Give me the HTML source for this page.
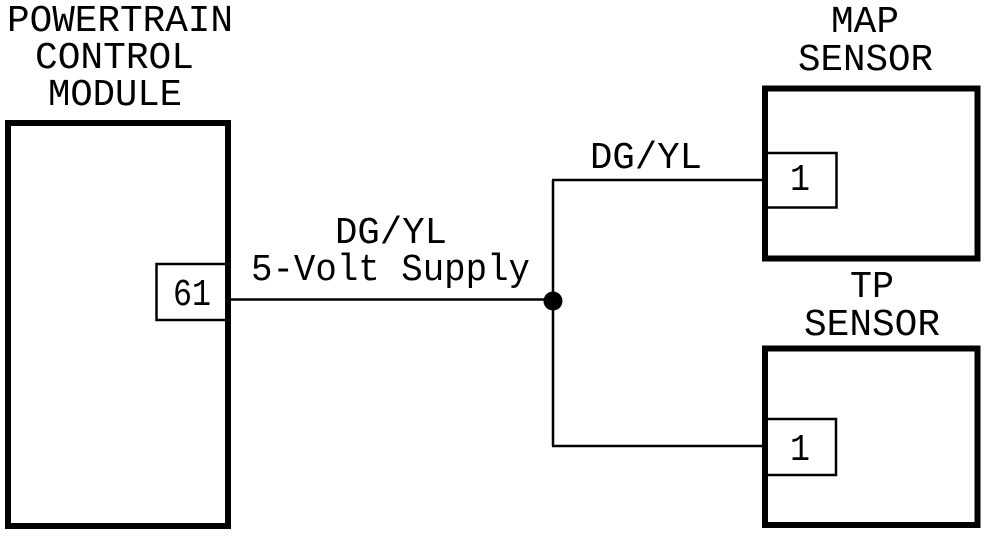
<!DOCTYPE html>
<html>
<head>
<meta charset="utf-8">
<style>
html,body{margin:0;padding:0;background:#fff;}
svg{display:block;}
text{font-family:"Liberation Mono",monospace;fill:#000;font-weight:400;}
</style>
</head>
<body>
<svg width="992" height="536" viewBox="0 0 992 536" xmlns="http://www.w3.org/2000/svg">
<rect width="992" height="536" fill="#fff"/>
<!-- PCM -->
<rect x="8" y="123" width="220" height="403" fill="none" stroke="#000" stroke-width="6"/>
<rect x="156.5" y="264" width="70" height="56" fill="none" stroke="#000" stroke-width="2.5"/>
<!-- MAP -->
<rect x="765" y="88.5" width="212.5" height="170" fill="none" stroke="#000" stroke-width="6"/>
<rect x="765" y="153" width="71.5" height="54.5" fill="none" stroke="#000" stroke-width="2.5"/>
<!-- TP -->
<rect x="765" y="348.500" width="212.5" height="176.500" fill="none" stroke="#000" stroke-width="6"/>
<rect x="765" y="419" width="71" height="56" fill="none" stroke="#000" stroke-width="2.5"/>
<!-- wires -->
<path d="M229 299.500H553M553 180V446M552 180H765M552 446H765" fill="none" stroke="#000" stroke-width="2.500"/>
<circle cx="553" cy="301" r="9.500" fill="#000"/>
<!-- labels -->
<g font-size="38">
<text x="7" y="31" textLength="226" lengthAdjust="spacingAndGlyphs">POWERTRAIN</text>
<text x="35" y="68" textLength="159" lengthAdjust="spacingAndGlyphs">CONTROL</text>
<text x="48" y="105" textLength="134" lengthAdjust="spacingAndGlyphs">MODULE</text>
<text x="831" y="32" textLength="68" lengthAdjust="spacingAndGlyphs">MAP</text>
<text x="798" y="70" textLength="135" lengthAdjust="spacingAndGlyphs">SENSOR</text>
<text x="850" y="297" textLength="44" lengthAdjust="spacingAndGlyphs">TP</text>
<text x="804" y="335" textLength="136" lengthAdjust="spacingAndGlyphs">SENSOR</text>
<text x="590" y="168" textLength="112" lengthAdjust="spacingAndGlyphs">DG/YL</text>
<text x="335" y="243" textLength="112" lengthAdjust="spacingAndGlyphs">DG/YL</text>
<text x="251" y="280" textLength="279" lengthAdjust="spacingAndGlyphs">5-Volt Supply</text>
<text x="173" y="305" textLength="38" lengthAdjust="spacingAndGlyphs">61</text>
<text x="790" y="190" textLength="20" lengthAdjust="spacingAndGlyphs">1</text>
<text x="790" y="460" textLength="20" lengthAdjust="spacingAndGlyphs">1</text>
</g>
</svg>
</body>
</html>
